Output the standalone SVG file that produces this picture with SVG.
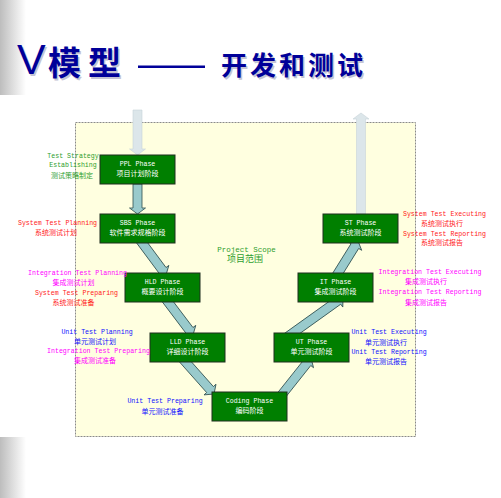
<svg xmlns="http://www.w3.org/2000/svg" width="501" height="498" viewBox="0 0 501 498">
  <defs>
    <linearGradient id="edge" x1="0" y1="0" x2="1" y2="0">
      <stop offset="0" stop-color="#BDBDBD"/>
      <stop offset="1" stop-color="#FFFFFF"/>
    </linearGradient>
  </defs>
  <style>
    .en { font-family: "Liberation Mono", monospace; font-size: 6.6px; text-anchor: middle; }
    .zh { font-family: "Noto Sans CJK SC", sans-serif; font-size: 7px; text-anchor: middle; }
    .red { fill: #FF1A1A; }
    .mag { fill: #FF00FF; }
    .blue { fill: #1010FF; }
    .grn { fill: #2E9E2E; }
    .node rect { fill: #007F00; stroke: #1F2F1F; stroke-width: 1; }
    .node text { fill: #FFFFFF; }
    .flow { fill: #99CACC; stroke: #2F4F4F; stroke-width: 0.8; }
    .pale { fill: #DCE6EA; stroke: #C8D4D8; stroke-width: 0.6; }
    .title { fill: #000099; font-family: "Noto Sans CJK SC", sans-serif; font-weight: bold; }
    .shadow { fill: #C4C4D4; }
  </style>

  <!-- page background -->
  <rect x="0" y="0" width="501" height="498" fill="#FFFFFF"/>
  <rect x="0" y="0" width="26" height="95" fill="url(#edge)"/>
  <rect x="0" y="437" width="26" height="61" fill="url(#edge)"/>

  <!-- heading -->
  <g id="title">
    <g class="shadow" transform="translate(1.5,1.5)">
      <text x="17" y="74" font-family="Liberation Sans, sans-serif" font-size="43">V</text>
      <text x="48" y="75" font-family="Noto Sans CJK SC, sans-serif" font-weight="bold" font-size="33" letter-spacing="7">模型</text>
      <text x="221" y="75" font-family="Noto Sans CJK SC, sans-serif" font-weight="bold" font-size="26" letter-spacing="3">开发和测试</text>
    </g>
    <text x="17" y="74" fill="#000099" font-family="Liberation Sans, sans-serif" font-size="43">V</text>
    <text class="title" x="48" y="75" font-size="33" letter-spacing="7">模型</text>
    <rect x="138" y="65.5" width="67" height="2.5" fill="#000099"/>
    <text class="title" x="221" y="75" font-size="26" letter-spacing="3">开发和测试</text>
  </g>

  <!-- project scope area -->
  <g id="scope">
    <rect x="75.5" y="122.5" width="340" height="314" fill="#FFFFE0" stroke="#8A8A8A" stroke-width="1" stroke-dasharray="2 1"/>
    <text class="grn" x="246.5" y="251.6" font-family="Liberation Mono, monospace" font-size="7.5" text-anchor="middle">Project Scope</text>
    <text class="grn" x="245" y="262.3" font-family="Noto Sans CJK SC, sans-serif" font-size="9" text-anchor="middle">项目范围</text>
  </g>

  <!-- connectors -->
  <g id="connectors">
    <path class="pale" transform="translate(137.5,110) rotate(90)" d="M0,-4.5 H39 V-8 L45,0 L39,8 V4.5 H0 Z"/>
    <path class="flow" transform="translate(137.5,184) rotate(90)" d="M0,-4.5 H24 V-8 L30,0 L24,8 V4.5 H0 Z"/>
    <path class="flow" transform="translate(140,240) rotate(53.4)" d="M0,-4.5 H37.6 V-8 L43.6,0 L37.6,8 V4.5 H0 Z"/>
    <path class="flow" transform="translate(165,298) rotate(52.9)" d="M0,-4.5 H40.4 V-8 L46.4,0 L40.4,8 V4.5 H0 Z"/>
    <path class="flow" transform="translate(182,358) rotate(48.4)" d="M0,-4.5 H42.2 V-8 L48.2,0 L42.2,8 V4.5 H0 Z"/>
    <path class="flow" transform="translate(280,397) rotate(-51.5)" d="M0,-4.5 H43.8 V-8 L49.8,0 L43.8,8 V4.5 H0 Z"/>
    <path class="flow" transform="translate(283,340) rotate(-35.6)" d="M0,-4.5 H67.8 V-8 L73.8,0 L67.8,8 V4.5 H0 Z"/>
    <path class="flow" transform="translate(335,278) rotate(-58.1)" d="M0,-4.5 H37.6 V-8 L43.6,0 L37.6,8 V4.5 H0 Z"/>
    <path class="pale" transform="translate(361,214) rotate(-90)" d="M0,-4.5 H95 V-8 L101,0 L95,8 V4.5 H0 Z"/>
  </g>

  <!-- phases -->
  <g id="ppl" class="node">
    <rect x="100" y="155" width="75" height="29"/>
    <text class="en" x="137.5" y="165.5">PPL Phase</text>
    <text class="zh" x="137.5" y="176">项目计划阶段</text>
  </g>
  <g id="sbs" class="node">
    <rect x="100" y="214" width="75" height="29"/>
    <text class="en" x="137.5" y="224.5">SBS Phase</text>
    <text class="zh" x="137.5" y="235">软件需求规格阶段</text>
  </g>
  <g id="hld" class="node">
    <rect x="125" y="273" width="75" height="29"/>
    <text class="en" x="162.5" y="283.5">HLD Phase</text>
    <text class="zh" x="162.5" y="294">概要设计阶段</text>
  </g>
  <g id="lld" class="node">
    <rect x="150" y="333" width="75" height="29"/>
    <text class="en" x="187.5" y="343.5">LLD Phase</text>
    <text class="zh" x="187.5" y="354">详细设计阶段</text>
  </g>
  <g id="coding" class="node">
    <rect x="212" y="392" width="75" height="29"/>
    <text class="en" x="249.5" y="402.5">Coding Phase</text>
    <text class="zh" x="249.5" y="413">编码阶段</text>
  </g>
  <g id="ut" class="node">
    <rect x="274" y="333" width="75" height="29"/>
    <text class="en" x="311.5" y="343.5">UT Phase</text>
    <text class="zh" x="311.5" y="354">单元测试阶段</text>
  </g>
  <g id="it" class="node">
    <rect x="298" y="273" width="75" height="29"/>
    <text class="en" x="335.5" y="283.5">IT Phase</text>
    <text class="zh" x="335.5" y="294">集成测试阶段</text>
  </g>
  <g id="st" class="node">
    <rect x="323" y="214" width="75" height="29"/>
    <text class="en" x="360.5" y="224.5">ST Phase</text>
    <text class="zh" x="360.5" y="235">系统测试阶段</text>
  </g>

  <!-- activity notes, left side -->
  <g id="notes-left">
    <text class="en grn" x="73" y="157.6">Test Strategy</text>
    <text class="en grn" x="73" y="166.8">Establishing</text>
    <text class="zh grn" x="72" y="177.6">测试策略制定</text>

    <text class="en red" x="57.5" y="224.6">System Test Planning</text>
    <text class="zh red" x="56" y="234.6">系统测试计划</text>

    <text class="en mag" x="77.5" y="275">Integration Test Planning</text>
    <text class="zh mag" x="73.5" y="284.6">集成测试计划</text>
    <text class="en red" x="76.5" y="295.4">System Test Preparing</text>
    <text class="zh red" x="73.5" y="305.3">系统测试准备</text>

    <text class="en blue" x="97" y="334">Unit Test Planning</text>
    <text class="zh blue" x="95" y="343.6">单元测试计划</text>
    <text class="en mag" x="98.5" y="353">Integration Test Preparing</text>
    <text class="zh mag" x="95" y="362.6">集成测试准备</text>

    <text class="en blue" x="165" y="403.4">Unit Test Preparing</text>
    <text class="zh blue" x="162.5" y="413.6">单元测试准备</text>
  </g>

  <!-- activity notes, right side -->
  <g id="notes-right">
    <text class="en red" x="444.5" y="216.4">System Test Executing</text>
    <text class="zh red" x="442" y="226">系统测试执行</text>
    <text class="en red" x="444.5" y="235.7">System Test Reporting</text>
    <text class="zh red" x="442" y="245.3">系统测试报告</text>

    <text class="en mag" x="430" y="274.4">Integration Test Executing</text>
    <text class="zh mag" x="426" y="284.3">集成测试执行</text>
    <text class="en mag" x="430" y="294.4">Integration Test Reporting</text>
    <text class="zh mag" x="426" y="304.6">集成测试报告</text>

    <text class="en blue" x="389" y="334.4">Unit Test Executing</text>
    <text class="zh blue" x="386" y="344.6">单元测试执行</text>
    <text class="en blue" x="389" y="354">Unit Test Reporting</text>
    <text class="zh blue" x="386" y="364.3">单元测试报告</text>
  </g>
</svg>
